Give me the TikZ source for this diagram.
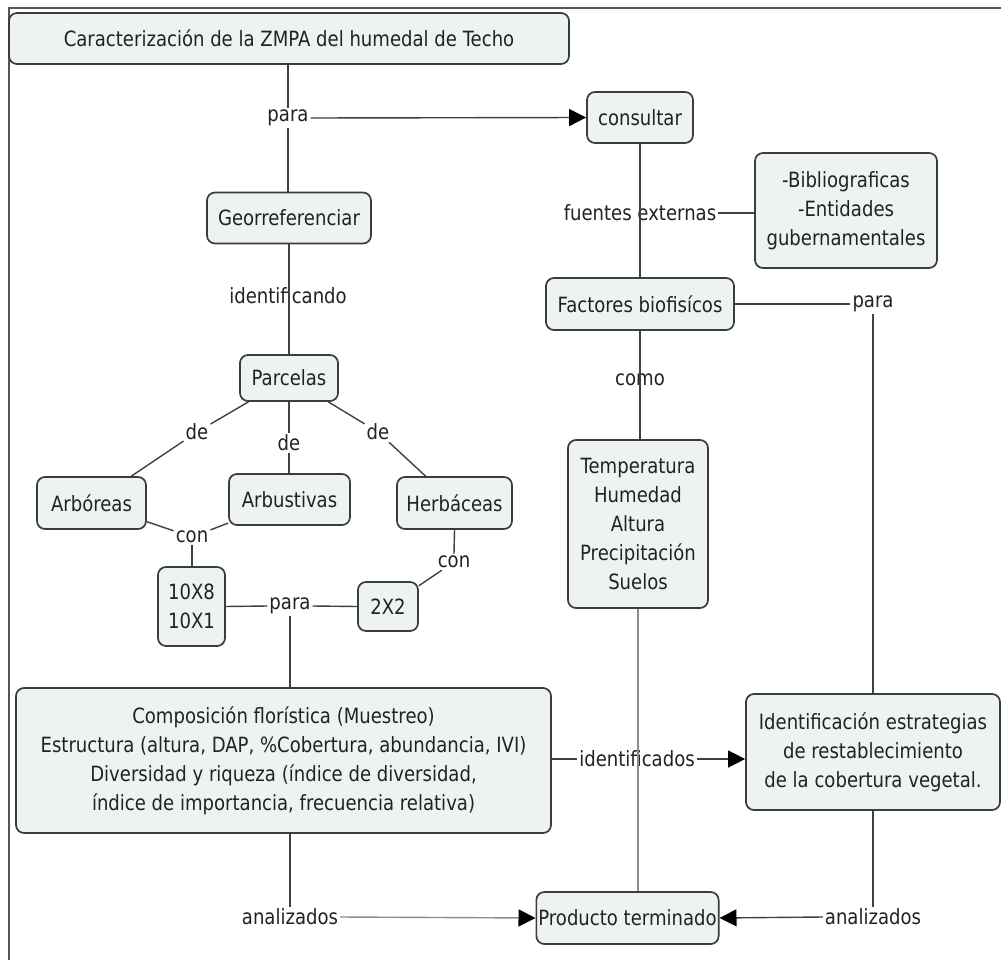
\documentclass[tikz,border=0pt]{standalone}
\usepackage{fontspec}
\setmainfont{DejaVu Sans}[FakeStretch=0.86]
\usetikzlibrary{arrows.meta}
\definecolor{boxfill}{HTML}{EDF3F3}
\definecolor{boxline}{HTML}{3C3C3C}
\definecolor{lnk}{HTML}{404040}
\definecolor{lnklight}{HTML}{8E8E8E}
\definecolor{txt}{HTML}{222222}
\definecolor{framec}{HTML}{555555}
\begin{document}
\begin{tikzpicture}[x=1pt,y=-1pt,
  font=\fontsize{21}{29}\selectfont,
  box/.style={draw=boxline, fill=boxfill, rounded corners=8pt, line width=1.7pt, align=center, inner sep=2pt, text=txt},
  lbl/.style={inner sep=2pt, text=txt},
  conn/.style={draw=lnk, line width=1.4pt},
  conlight/.style={draw=lnklight, line width=1.4pt},
  tip/.style={-{Triangle[length=17pt,width=17pt,color=black]}}
]
\useasboundingbox (0,0) rectangle (1001,960);
\fill[white] (0,0) rectangle (1001,960);
% frame
\draw[framec, line width=1.2pt] (9,960) -- (9,8) -- (1001,8);

% boxes
\node[box, minimum width=560pt, minimum height=51pt] (title) at (289,38.5) {Caracterización de la ZMPA del humedal de Techo};
\node[box, minimum width=106pt, minimum height=51pt] (consultar) at (640,117.5) {consultar};
\node[box, minimum width=164pt, minimum height=51pt] (geo) at (289,218) {Georreferenciar};
\node[box, minimum width=182pt, minimum height=115pt] (biblio) at (846,210.5) {-Bibliograficas\\-Entidades\\gubernamentales};
\node[box, minimum width=188pt, minimum height=52pt] (factores) at (640,304) {Factores biofisícos};
\node[box, minimum width=98pt, minimum height=46pt] (parcelas) at (289,378) {Parcelas};
\node[box, minimum width=109pt, minimum height=52pt] (arbo) at (91.5,503) {Arbóreas};
\node[box, minimum width=121pt, minimum height=51pt] (arbu) at (289.5,499.5) {Arbustivas};
\node[box, minimum width=115pt, minimum height=52pt] (herb) at (454.5,503) {Herbáceas};
\node[box, minimum width=140pt, minimum height=168pt] (temp) at (638,524) {Temperatura\\Humedad\\Altura\\Precipitación\\Suelos};
\node[box, minimum width=67pt, minimum height=79pt] (diez) at (191.5,606.5) {10X8\\10X1};
\node[box, minimum width=60pt, minimum height=49pt] (dos) at (388,606.5) {2X2};
\node[box, minimum width=535pt, minimum height=145pt] (compo) at (283.5,760.5) {Composición florística (Muestreo)\\Estructura (altura, DAP, \%Cobertura, abundancia, IVI)\\Diversidad y riqueza (índice de diversidad,\\índice de importancia, frecuencia relativa)};
\node[box, minimum width=254pt, minimum height=116pt] (ident) at (873,752) {Identificación estrategias\\de restablecimiento\\de la cobertura vegetal.};
\node[box, minimum width=179pt, minimum height=52pt] (prod) at (627.5,918) {Producto terminado};

% labels
\node[lbl] (paraA) at (288,118) {para};
\node[lbl] (identif) at (288,296) {identificando};
\node[lbl] (fuentes) at (640,213) {fuentes externas};
\node[lbl] (paraR) at (873,304) {para};
\node[lbl] (como) at (640,380) {como};
\node[lbl] (deL) at (197,432) {de};
\node[lbl] (deM) at (289,443) {de};
\node[lbl] (deR) at (378,432) {de};
\node[lbl] (conL) at (192,537) {con};
\node[lbl] (conR) at (454,562) {con};
\node[lbl] (paraM) at (290,606) {para};
\node[lbl] (identdos) at (637,759) {identificados};
\node[lbl] (analL) at (290,917) {analizados};
\node[lbl] (analR) at (873,917) {analizados};

% connectors
\draw[conn] (title.south -| paraA) -- (paraA.north);
\draw[conn] (paraA.south) -- (geo.north -| paraA);
\draw[conn, tip] (paraA.east) -- (consultar.west);
\draw[conn] (geo.south) -- (parcelas.north);
\draw[conn] (consultar.south) -- (factores.north);
\draw[conn] (fuentes.east) -- (biblio.west |- fuentes);
\draw[conn] (factores.east) -- (paraR.west);
\draw[conn] (paraR.south) -- (ident.north);
\draw[conn] (factores.south) -- (temp.north -| factores);
\draw[conn] (parcelas) -- (deL);
\draw[conn] (deL) -- (arbo);
\draw[conn] (parcelas.south) -- (deM.north);
\draw[conn] (deM.south) -- (arbu.north -| deM);
\draw[conn] (parcelas) -- (deR);
\draw[conn] (deR) -- (herb);
\draw[conn] (arbo) -- (conL);
\draw[conn] (conL) -- (arbu);
\draw[conn] (conL.south) -- (diez.north -| conL);
\draw[conn] (herb.south) -- (conR.north);
\draw[conn] (conR) -- (dos);
\draw[conn] (diez.east) -- (paraM.west);
\draw[conn] (paraM.east) -- (dos.west);
\draw[conn] (paraM.south) -- (compo.north -| paraM);
\draw[conn] (compo.east |- identdos) -- (identdos.west);
\draw[conn, tip] (identdos.east) -- (ident.west |- identdos);
\draw[conlight] (temp.south) -- (prod.north -| temp.south);
\draw[conn] (compo.south -| analL) -- (analL.north);
\draw[conlight, tip] (analL.east) -- (prod.west);
\draw[conn] (ident.south) -- (analR.north);
\draw[conn, tip] (analR.west) -- (prod.east);
\end{tikzpicture}
\end{document}
